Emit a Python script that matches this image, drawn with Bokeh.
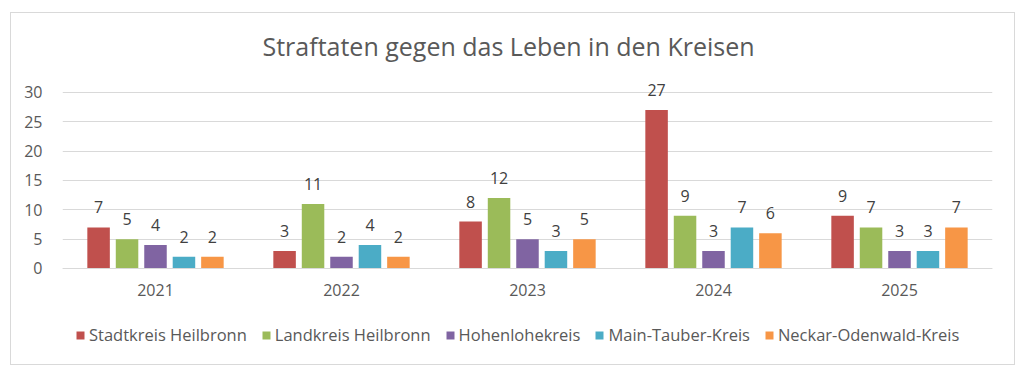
from bokeh.plotting import figure
from bokeh.models import (ColumnDataSource, FactorRange, Range1d, LabelSet,
                          Legend, LegendItem, FixedTicker)
from bokeh.core.properties import value
from bokeh.transform import dodge
from bokeh.embed import file_html
from bokeh.resources import INLINE

years = ["2021", "2022", "2023", "2024", "2025"]
series_names = ["Stadtkreis Heilbronn", "Landkreis Heilbronn", "Hohenlohekreis",
                "Main-Tauber-Kreis", "Neckar-Odenwald-Kreis"]
stadtkreis_heilbronn = [7, 3, 8, 27, 9]
landkreis_heilbronn = [5, 11, 12, 9, 7]
hohenlohekreis = [4, 2, 5, 3, 3]
main_tauber_kreis = [2, 4, 3, 7, 3]
neckar_odenwald_kreis = [2, 2, 5, 6, 7]
y_ticks = [0, 5, 10, 15, 20, 25, 30]
title_text = "Straftaten gegen das Leben in den Kreisen"

series_values = [stadtkreis_heilbronn, landkreis_heilbronn, hohenlohekreis,
                 main_tauber_kreis, neckar_odenwald_kreis]
colors = ["#C0504D", "#9BBB59", "#8064A2", "#4BACC6", "#F79646"]
offsets = [-0.306, -0.153, 0.0, 0.153, 0.306]

FONT = "Open Sans"
TXT = "#595959"

# canvas sits inside a 1px bordered box, canvas origin at page (11, 13).
# The frame extends below zero so the legend can sit inside it.
p = figure(x_range=FactorRange(*years, range_padding=0),
           y_range=Range1d(-14.489, 34.09),
           frame_width=930, frame_height=285, output_backend="svg",
           toolbar_location=None,
           min_border_left=51, min_border_right=22, min_border_top=55,
           min_border_bottom=11, margin=(12, 0, 0, 10),
           styles={"border": "1px solid #d9d9d9"})
p.outline_line_color = None
p.background_fill_color = "white"
p.border_fill_color = "white"

p.title.text = title_text
p.title.align = "left"
p.title.offset = 200
p.title.standoff = 0
p.title.padding = dict(left=0, right=0, top=0, bottom=6)
p.title.text_font = FONT
p.title.text_font_size = "25px"
p.title.text_font_style = "normal"
p.title.text_color = TXT

data = {"year": years}
for i, vals in enumerate(series_values):
    data[f"s{i}"] = vals
    data[f"l{i}"] = [str(v) for v in vals]
src = ColumnDataSource(data)

items = []
for i, name in enumerate(series_names):
    r = p.vbar(x=dodge("year", offsets[i], range=p.x_range), top=f"s{i}", bottom=0,
               width=0.121, source=src, fill_color=colors[i], line_color=None)
    items.append(LegendItem(label=name, renderers=[r]))
    lbl = LabelSet(x=dodge("year", offsets[i], range=p.x_range), y=f"s{i}", text=f"l{i}",
                   source=src, text_align="center", text_baseline="bottom", y_offset=14,
                   text_font=value(FONT), text_font_size=value("16px"),
                   text_color="#404040")
    p.add_layout(lbl)

p.yaxis.ticker = FixedTicker(ticks=y_ticks)
p.yaxis.axis_line_color = None
p.yaxis.major_tick_line_color = None
p.yaxis.minor_tick_line_color = None
p.yaxis.major_label_standoff = 14
p.yaxis.major_label_text_font = FONT
p.yaxis.major_label_text_font_size = "16px"
p.yaxis.major_label_text_color = TXT

p.xaxis.fixed_location = 0
p.xaxis.axis_line_color = "#d9d9d9"
p.xaxis.major_tick_line_color = None
p.xaxis.minor_tick_line_color = None
p.xaxis.major_label_standoff = 10
p.xaxis.major_label_text_font = FONT
p.xaxis.major_label_text_font_size = "16px"
p.xaxis.major_label_text_color = TXT

p.xgrid.grid_line_color = None
p.ygrid.grid_line_color = "#d9d9d9"
p.ygrid.grid_line_width = 1

legend = Legend(items=items, orientation="horizontal", location=(13, 7),
                padding=0, margin=0, spacing=14, label_standoff=4,
                glyph_width=10, glyph_height=10, label_height=22,
                label_text_font=FONT, label_text_font_size="16.5px",
                label_text_color=TXT, border_line_color=None,
                background_fill_alpha=0)
p.add_layout(legend, "center")

open("out.html", "w").write(file_html(p, INLINE))
